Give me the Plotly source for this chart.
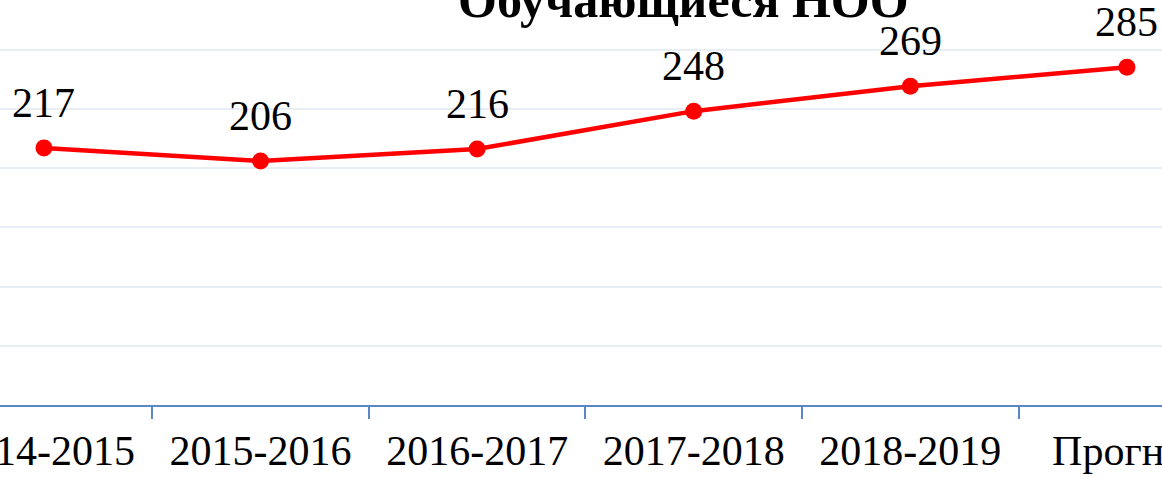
import plotly.graph_objects as go

categories = ["2014-2015", "2015-2016", "2016-2017", "2017-2018", "2018-2019", "Прогноз"]
values = [217, 206, 216, 248, 269, 285]
title_text = "Обучающиеся НОО"

FONT = "Liberation Serif"
AXIS_BLUE = "#5B87C8"

fig = go.Figure()
fig.add_trace(go.Scatter(
    x=categories, y=values, mode="lines+markers",
    line=dict(color="#FF0000", width=4.5),
    marker=dict(color="#FF0000", size=17),
    hoverinfo="skip", showlegend=False, cliponaxis=False,
))

for c, v in zip(categories, values):
    fig.add_annotation(x=c, y=v, text=str(v), showarrow=False,
                       xref="x", yref="y", yanchor="bottom", yshift=20,
                       font=dict(family=FONT, size=42, color="#000000"))

fig.add_annotation(x=683 / 1162, y=1.0, xref="paper", yref="paper",
                   text="<b>" + title_text + "</b>", showarrow=False,
                   xanchor="center", yanchor="bottom", yshift=-30,
                   font=dict(family=FONT, size=50, color="#000000"))

fig.update_layout(
    width=1162, height=477,
    margin=dict(l=0, r=0, t=0, b=72, autoexpand=False),
    paper_bgcolor="white", plot_bgcolor="white",
    xaxis=dict(type="category", range=[-0.203, 5.162], automargin=False,
               tickson="boundaries", ticks="outside", ticklen=12,
               tickcolor=AXIS_BLUE, tickwidth=1.5,
               showline=True, linecolor=AXIS_BLUE, linewidth=1.5,
               showgrid=False, ticklabelstandoff=8,
               tickfont=dict(family=FONT, size=42, color="#000000")),
    yaxis=dict(range=[0, 341.8], dtick=50, showticklabels=False,
               automargin=False,
               showgrid=True, gridcolor="#E9EEF4", gridwidth=1.5,
               zeroline=False, showline=False, ticks=""),
)

fig.write_html("out.html", config={"displayModeBar": False},
               post_script="document.body.style.margin='0';document.body.style.overflow='hidden';")
